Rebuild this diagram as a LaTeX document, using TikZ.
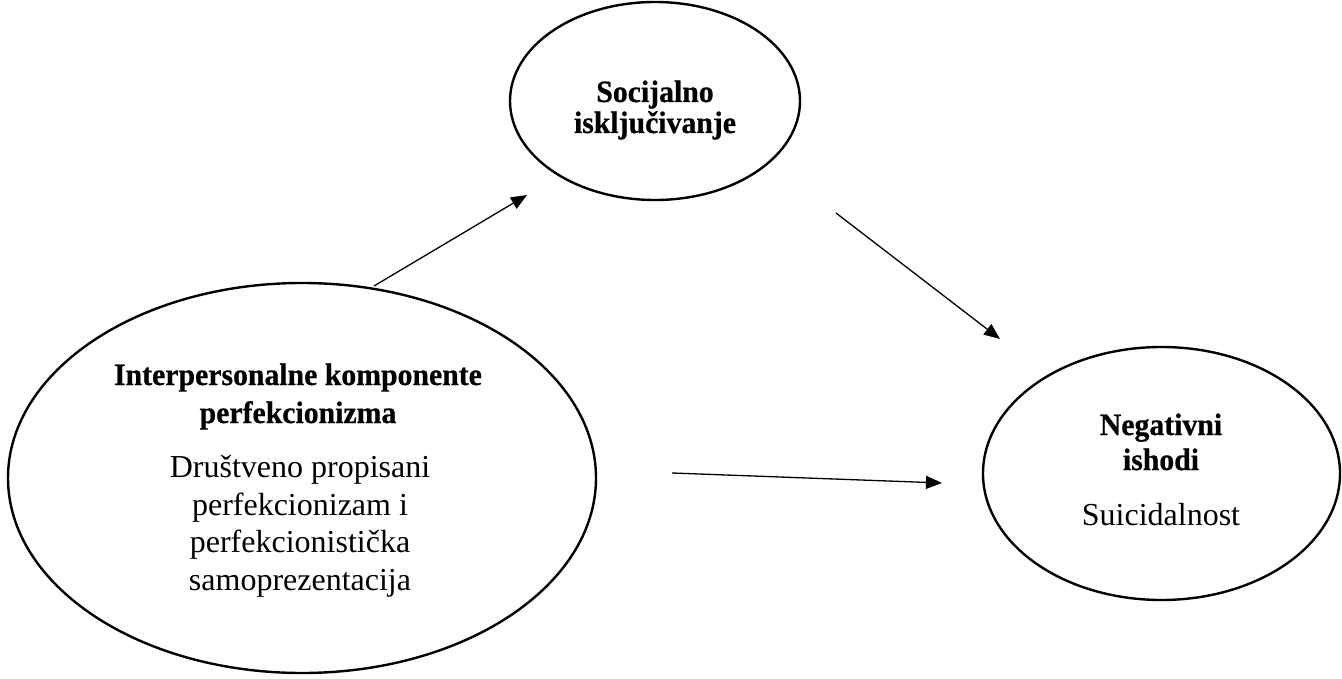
\documentclass[tikz,border=0pt]{standalone}
\usepackage{fontspec}
\setmainfont{Liberation Serif}
\newfontfamily\headfont[FakeStretch=0.96,FakeBold=0.6]{Liberation Serif Bold}
\usetikzlibrary{arrows.meta,shapes.geometric}
\tikzset{
  oval/.style={draw,line width=2.4pt,ellipse,inner sep=0pt},
  headtxt/.style={anchor=base,align=center,inner sep=0pt},
  bodytxt/.style={anchor=base,align=center,inner sep=0pt,font=\fontsize{32}{37.5}\selectfont},
  link/.style={line width=1.3pt,-{Triangle[length=16pt,width=13pt]}}
}
\begin{document}
\begin{tikzpicture}[x=1pt,y=-1pt]
\useasboundingbox (0,0) rectangle (1342,679);
% ellipses
\node[oval,minimum width=588pt,minimum height=390pt] (L) at (302,478) {};
\node[oval,minimum width=290pt,minimum height=198pt] (T) at (655,101) {};
\node[oval,minimum width=357pt,minimum height=253pt] (R) at (1161.5,473.5) {};
% texts (anchor = baseline of last line)
\node[headtxt,font=\headfont\fontsize{31}{38}\selectfont] (Lh) at (298,423) {Interpersonalne komponente\\perfekcionizma};
\node[bodytxt] (Lb) at (300,590) {Društveno propisani\\perfekcionizam i\\perfekcionistička\\samoprezentacija};
\node[headtxt,font=\headfont\fontsize{31}{31}\selectfont] (Th) at (655,133) {Socijalno\\isključivanje};
\node[headtxt,font=\headfont\fontsize{31}{35}\selectfont] (Rh) at (1161,470) {Negativni\\ishodi};
\node[bodytxt] (Rb) at (1161,525) {Suicidalnost};
% connector ends
\coordinate (a1s) at (374,286);
\coordinate (a1e) at (527,195);
\coordinate (a2s) at (836,213);
\coordinate (a2e) at (1000,339);
\coordinate (a3s) at (672,473);
\coordinate (a3e) at (942,483);
\draw[link] (a1s) -- (a1e);
\draw[link] (a2s) -- (a2e);
\draw[link] (a3s) -- (a3e);
\end{tikzpicture}
\end{document}
